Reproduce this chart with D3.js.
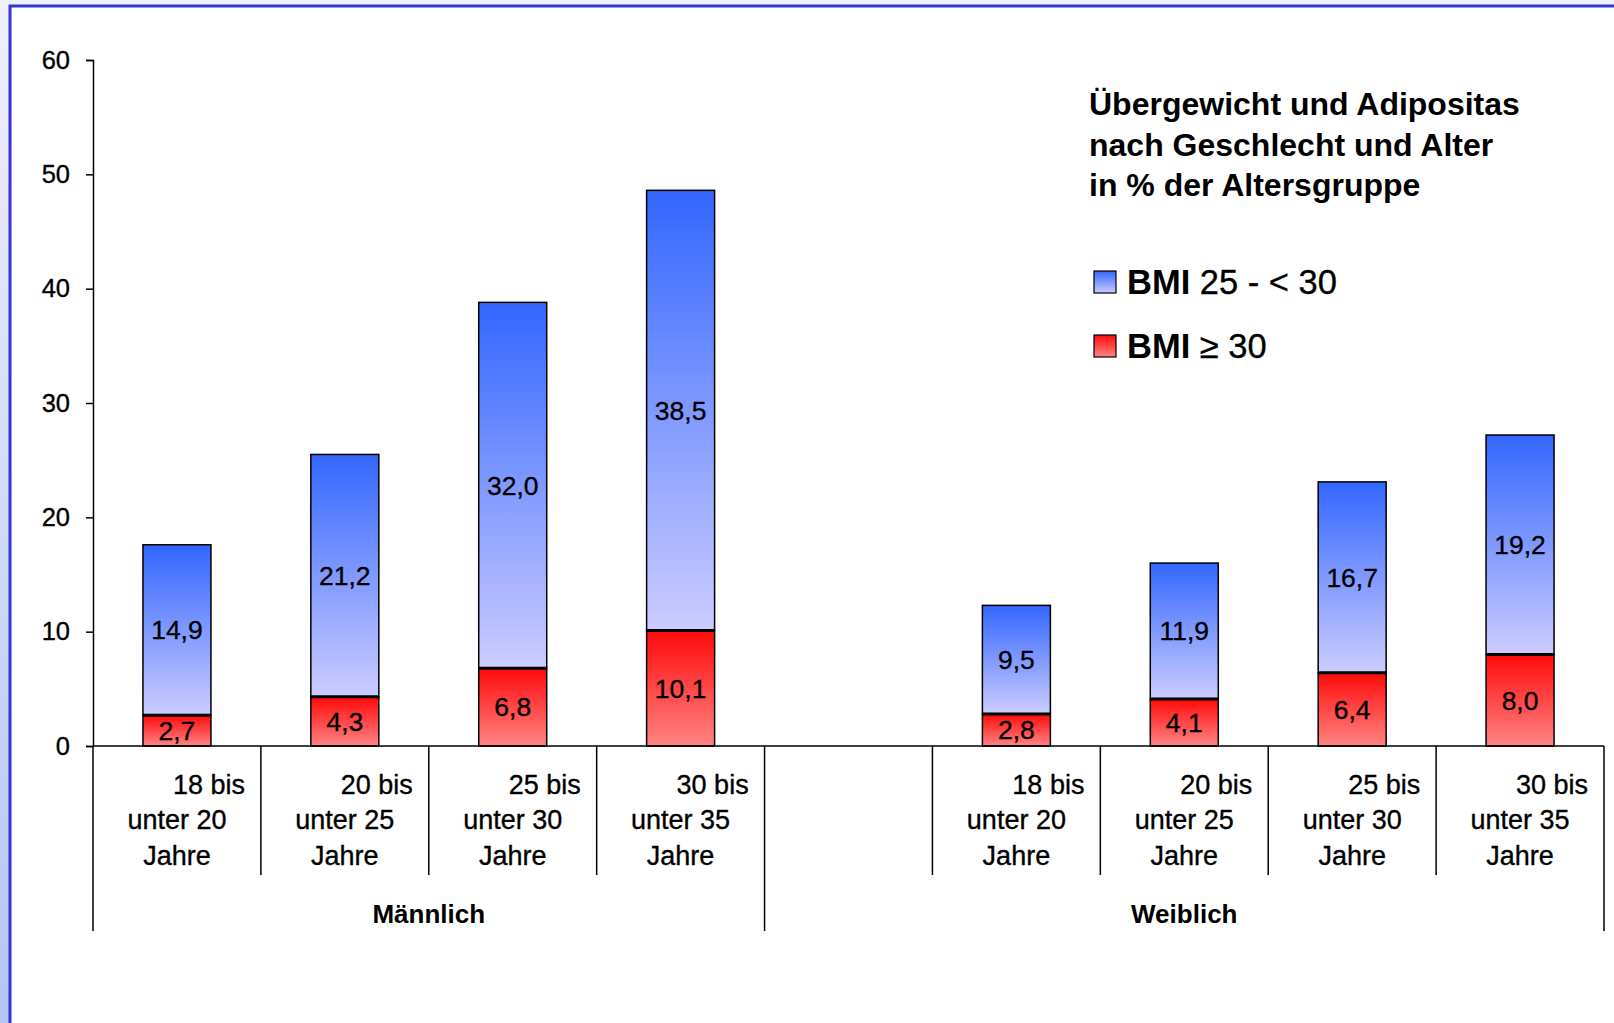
<!DOCTYPE html>
<html>
<head>
<meta charset="utf-8">
<script src="https://cdn.jsdelivr.net/npm/d3@7"></script>
<style>
  body { margin: 0; background: #ffffff; }
  svg text { font-family: "Liberation Sans", Arial, sans-serif; }
  .soft { stroke: #000; stroke-width: 0.35px; }
</style>
</head>
<body>
<svg id="chart" width="1614" height="1023"></svg>
<script>
// Data
var ageLabels = [["18 bis", "unter 20", "Jahre"], ["20 bis", "unter 25", "Jahre"],
                 ["25 bis", "unter 30", "Jahre"], ["30 bis", "unter 35", "Jahre"]];
var groups = ["Männlich", "Weiblich"];
var maleObese = [2.7, 4.3, 6.8, 10.1];     // BMI >= 30
var maleOver = [14.9, 21.2, 32.0, 38.5];   // BMI 25 - < 30
var femaleObese = [2.8, 4.1, 6.4, 8.0];
var femaleOver = [9.5, 11.9, 16.7, 19.2];
var yTicks = [0, 10, 20, 30, 40, 50, 60];
var titleLines = ["Übergewicht und Adipositas", "nach Geschlecht und Alter", "in % der Altersgruppe"];
var legendItems = [{ bold: "BMI", rest: " 25 - < 30", key: "over" }, { bold: "BMI", rest: " ≥ 30", key: "obese" }];

//Build the slots: 4 male, 1 empty (belongs to Weiblich), 4 female
var slots = [];
ageLabels.forEach(function(a, i) {
  slots.push({ id: "m" + i, group: 0, lines: a, obese: maleObese[i], over: maleOver[i] });
});
slots.push({ id: "empty", group: 1, lines: null });
ageLabels.forEach(function(a, i) {
  slots.push({ id: "f" + i, group: 1, lines: a, obese: femaleObese[i], over: femaleOver[i] });
});

var svg = d3.select("#chart");
var fmt = function(v) { return v.toFixed(1).replace(".", ","); };

//Gradients
var defs = svg.append("defs");
function grad(id, top, bottom) {
  var g = defs.append("linearGradient").attr("id", id)
    .attr("x1", 0).attr("y1", 0).attr("x2", 0).attr("y2", 1);
  g.append("stop").attr("offset", "0%").attr("stop-color", top);
  g.append("stop").attr("offset", "100%").attr("stop-color", bottom);
}
grad("gOver", "#3366ff", "#ccccff");
grad("gObese", "#ff0a0a", "#ff8484");
var side = defs.append("linearGradient").attr("id", "gSide")
  .attr("x1", 0).attr("y1", 0).attr("x2", 0).attr("y2", 1);
side.append("stop").attr("offset", "0%").attr("stop-color", "#eef0fd");
side.append("stop").attr("offset", "100%").attr("stop-color", "#b4c4f6");

//Frame
svg.append("rect").attr("x", 0).attr("y", 0).attr("width", 1614).attr("height", 1023).attr("fill", "url(#gSide)");
svg.append("rect").attr("x", 10).attr("y", 6).attr("width", 1610).attr("height", 1030)
  .attr("fill", "#ffffff").attr("stroke", "#3535d6").attr("stroke-width", 3);

//Scales
var plotLeft = 93, plotRight = 1604, plotTop = 60, zeroY = 746;
var x = d3.scaleBand().domain(slots.map(function(d) { return d.id; })).range([plotLeft, plotRight]).padding(0);
var y = d3.scaleLinear().domain([0, 60]).range([zeroY, plotTop]);
var barW = x.bandwidth() * 0.405;

//Y axis
var yAxis = svg.append("g").attr("transform", "translate(" + plotLeft + ",0)")
  .call(d3.axisLeft(y).tickValues(yTicks).tickSize(7).tickPadding(16).tickFormat(d3.format("d")));
yAxis.select(".domain").attr("stroke", "#000").attr("stroke-width", 1.5);
yAxis.selectAll(".tick line").attr("stroke", "#000").attr("stroke-width", 1.5);
yAxis.selectAll(".tick text").attr("font-size", 25.5).attr("fill", "#000").attr("class", "soft");

//Bars
var bars = svg.append("g").selectAll("g").data(slots.filter(function(d) { return d.lines; }))
  .enter().append("g");
bars.append("rect")
  .attr("x", function(d) { return x(d.id) + (x.bandwidth() - barW) / 2; })
  .attr("y", function(d) { return y(d.obese + d.over); })
  .attr("width", barW)
  .attr("height", function(d) { return y(d.obese) - y(d.obese + d.over); })
  .attr("fill", "url(#gOver)").attr("stroke", "#000").attr("stroke-width", 1.5);
bars.append("rect")
  .attr("x", function(d) { return x(d.id) + (x.bandwidth() - barW) / 2; })
  .attr("y", function(d) { return y(d.obese); })
  .attr("width", barW)
  .attr("height", function(d) { return y(0) - y(d.obese); })
  .attr("fill", "url(#gObese)").attr("stroke", "#000").attr("stroke-width", 1.5);
//thick line between the segments
bars.append("line")
  .attr("x1", function(d) { return x(d.id) + (x.bandwidth() - barW) / 2; })
  .attr("x2", function(d) { return x(d.id) + (x.bandwidth() + barW) / 2; })
  .attr("y1", function(d) { return y(d.obese); })
  .attr("y2", function(d) { return y(d.obese); })
  .attr("stroke", "#000").attr("stroke-width", 3);

//Value labels
bars.append("text").attr("class", "soft")
  .attr("x", function(d) { return x(d.id) + x.bandwidth() / 2; })
  .attr("y", function(d) { return y(d.obese + d.over / 2); })
  .attr("dy", "0.35em").attr("text-anchor", "middle").attr("font-size", 26.5)
  .text(function(d) { return fmt(d.over); });
bars.append("text").attr("class", "soft")
  .attr("x", function(d) { return x(d.id) + x.bandwidth() / 2; })
  .attr("y", function(d) { return y(d.obese / 2); })
  .attr("dy", "0.35em").attr("text-anchor", "middle").attr("font-size", 26.5)
  .text(function(d) { return fmt(d.obese); });

//X axis line
svg.append("line").attr("x1", plotLeft).attr("x2", plotRight).attr("y1", zeroY).attr("y2", zeroY)
  .attr("stroke", "#000").attr("stroke-width", 1.5);

//Category separators
var bounds = slots.map(function(d) { return x(d.id); }).concat([plotRight]);
svg.append("g").selectAll("line").data(bounds).enter().append("line")
  .attr("x1", function(d) { return d; }).attr("x2", function(d) { return d; })
  .attr("y1", zeroY)
  .attr("y2", function(d, i) { return (i === 0 || i === 4 || i === bounds.length - 1) ? 931 : 875; })
  .attr("stroke", "#000").attr("stroke-width", 1.5);

//Category labels
var lineY = [785, 820, 856];
var catText = svg.append("g").selectAll("text").data(slots.filter(function(d) { return d.lines; }))
  .enter().append("text").attr("class", "soft").attr("font-size", 27).attr("text-anchor", "middle");
catText.selectAll("tspan").data(function(d) {
    return d.lines.map(function(l, i) { return { t: l, i: i, cx: x(d.id) + x.bandwidth() / 2 }; });
  })
  .enter().append("tspan")
  .attr("x", function(d) { return d.cx + (d.i === 0 ? 32 : 0); })
  .attr("y", function(d) { return lineY[d.i]; })
  .attr("dy", "0.35em")
  .text(function(d) { return d.t; });

//Group labels
groups.forEach(function(g, gi) {
  var s = slots.filter(function(d) { return d.group === gi; });
  var x0 = x(s[0].id), x1 = x(s[s.length - 1].id) + x.bandwidth();
  svg.append("text").attr("x", (x0 + x1) / 2).attr("y", 914).attr("dy", "0.35em")
    .attr("text-anchor", "middle").attr("font-size", 26).attr("font-weight", "bold").text(g);
});

//Title
svg.append("g").selectAll("text").data(titleLines).enter().append("text")
  .attr("x", 1089).attr("y", function(d, i) { return 104 + i * 40.5; }).attr("dy", "0.35em")
  .attr("font-size", 32).attr("font-weight", "bold").text(function(d) { return d; });

//Legend
var leg = svg.append("g").selectAll("g").data(legendItems).enter().append("g")
  .attr("transform", function(d, i) { return "translate(1094," + (271 + i * 64) + ")"; });
leg.append("rect").attr("width", 22).attr("height", 22)
  .attr("fill", function(d) { return d.key === "over" ? "url(#gOver)" : "url(#gObese)"; })
  .attr("stroke", "#000").attr("stroke-width", 1.2);
var lt = leg.append("text").attr("x", 33).attr("y", 11).attr("dy", "0.36em").attr("font-size", 34.5);
lt.append("tspan").attr("font-weight", "bold").text(function(d) { return d.bold; });
lt.append("tspan").attr("class", "soft").text(function(d) { return d.rest; });
</script>
</body>
</html>
